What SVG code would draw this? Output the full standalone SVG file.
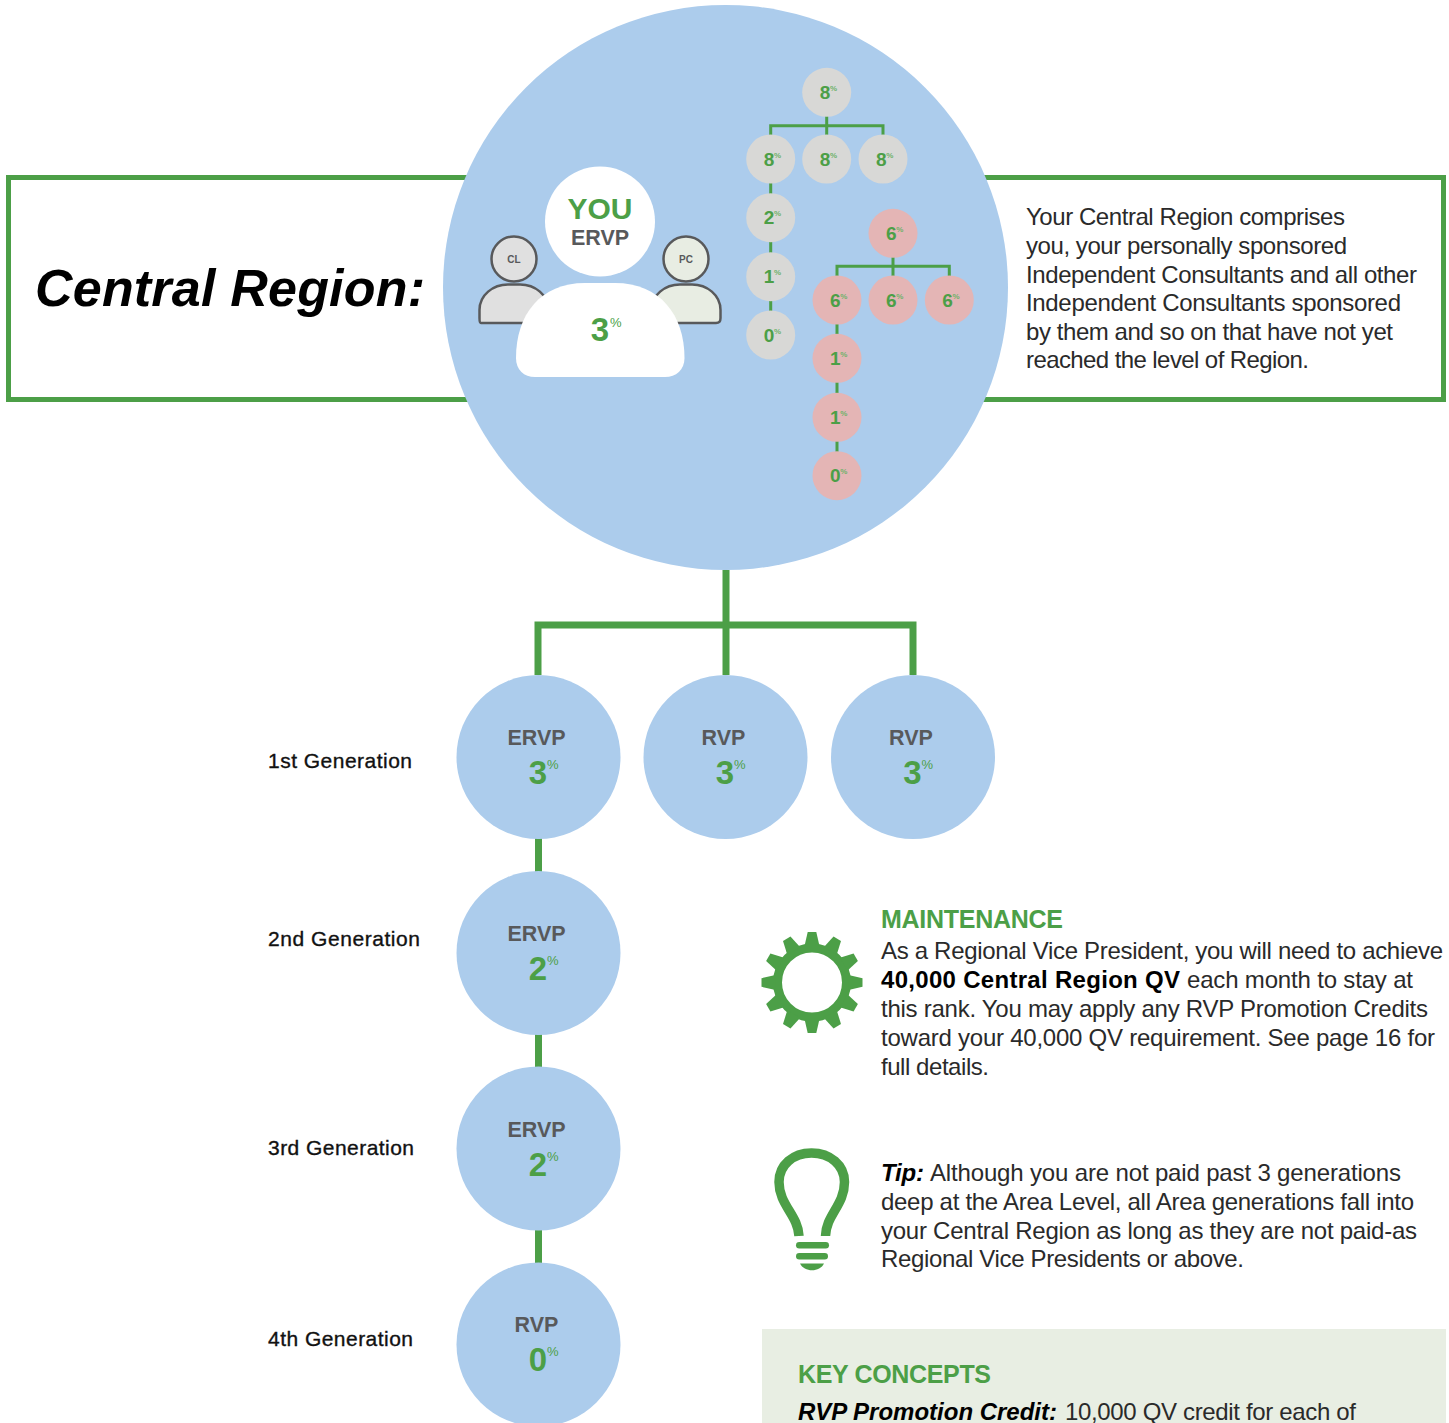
<svg xmlns="http://www.w3.org/2000/svg" width="1449" height="1423" viewBox="0 0 1449 1423">
<style>
text{font-family:"Liberation Sans",Arial,sans-serif}
.g{fill:#4c9f47}
.b{font-weight:bold}
.d{fill:#58595b;font-weight:bold}
.t{font-size:24px;fill:#2a2a2a}
.k{font-weight:bold;fill:#000}
.i{font-style:italic}
.gen{font-size:21px;fill:#111;stroke:#111;stroke-width:.35px}
.sm{font-size:19px;font-weight:bold;fill:#4c9f47;text-anchor:middle}
.smp{font-size:8px;font-weight:bold;fill:#6fb26b}
.big{font-size:33px;font-weight:bold;fill:#4c9f47;text-anchor:middle}
.bigp{font-size:13px;fill:#4c9f47}
.lab{font-size:21.500px;font-weight:bold;fill:#58595b;text-anchor:middle}
.head{font-size:25px;font-weight:bold;fill:#4c9f47}
.line{stroke:#4c9f47;fill:none}
.grey{fill:#d8d8d6}.pink{fill:#e4b5b5}.blue{fill:#acccec}
</style>
<defs>
<polygon id="tooth" points="807.700,932 816.300,932 819.500,946 804.500,946" fill="#4c9f47"/>
</defs>
<rect id="band" x="8.500" y="177.500" width="1435" height="222" fill="#fff" stroke="#4c9f47" stroke-width="5"/>
<text id="title" x="35" y="306" font-size="52" font-weight="bold" font-style="italic" fill="#000" textLength="390">Central Region:</text>
<g id="desc" class="t">
<text x="1026" y="224.500" textLength="319">Your Central Region comprises</text>
<text x="1026" y="253.500" textLength="321">you, your personally sponsored</text>
<text x="1026" y="282.500" textLength="391">Independent Consultants and all other</text>
<text x="1026" y="311" textLength="375">Independent Consultants sponsored</text>
<text x="1026" y="340" textLength="367">by them and so on that have not yet</text>
<text x="1026" y="368" textLength="283">reached the level of Region.</text>
</g>
<circle id="region" class="blue" cx="725.500" cy="287.500" r="282.500"/>
<g id="connectors">
<g class="line" stroke-width="7">
<path d="M726 570V675M538 675V625H913V675M538.500 838V872M538.500 1034V1068M538.500 1230V1264"/>
</g>
<g class="line" stroke-width="3">
<path d="M826.700 116V159M770.700 159V125.700H883V159M770.700 183V336M893 257V300M837 300V266.300H949.300V300M837 324V476"/>
</g>
</g>
<g id="cl">
<path d="M481 323C479.500 323 479.500 320 479.500 318V310C479.500 295 493 284.500 508 284.500H520C535 284.500 548.500 295 548.500 310V318C548.500 322 547 323 544 323Z" fill="#e0e0e0" stroke="#58595b" stroke-width="2.500"/>
<circle cx="514" cy="259" r="22.500" fill="#e0e0e0" stroke="#58595b" stroke-width="2.500"/>
<text x="514" y="263" font-size="10" text-anchor="middle" class="d">CL</text>
</g>
<g id="pc">
<path d="M653 323C651.500 323 651.500 320 651.500 318V310C651.500 295 665 284.500 680 284.500H692C707 284.500 720.500 295 720.500 310V318C720.500 322 719 323 716 323Z" fill="#e8ede3" stroke="#58595b" stroke-width="2.500"/>
<circle cx="686" cy="259" r="22.500" fill="#e8ede3" stroke="#58595b" stroke-width="2.500"/>
<text x="686" y="263" font-size="10" text-anchor="middle" class="d">PC</text>
</g>
<g id="you">
<circle cx="600" cy="221.500" r="55" fill="#fff"/>
<path d="M516 358C516 315 540 283 585 283H615C660 283 684.500 315 684.500 358C684.500 370 676 377 665 377H535C524 377 516 370 516 358Z" fill="#fff"/>
<text x="600" y="219" font-size="30" text-anchor="middle" class="g b">YOU</text>
<text x="600" y="245" class="lab">ERVP</text>
<text x="600" y="341" class="big">3</text><text x="610" y="327" class="bigp">%</text>
</g>
<g id="n1"><circle class="grey" cx="826.700" cy="92.300" r="24.500"/><text class="sm" x="825" y="98.800">8</text><text class="smp" x="830" y="90.500">%</text></g>
<g id="n2"><circle class="grey" cx="770.700" cy="159" r="24.500"/><text class="sm" x="769" y="165.500">8</text><text class="smp" x="774" y="157.500">%</text></g>
<g id="n3"><circle class="grey" cx="826.700" cy="159" r="24.500"/><text class="sm" x="825" y="165.500">8</text><text class="smp" x="830" y="157.500">%</text></g>
<g id="n4"><circle class="grey" cx="883" cy="159" r="24.500"/><text class="sm" x="881.300" y="165.500">8</text><text class="smp" x="886.300" y="157.500">%</text></g>
<g id="n5"><circle class="grey" cx="770.700" cy="217.700" r="24.500"/><text class="sm" x="769" y="224">2</text><text class="smp" x="774" y="216">%</text></g>
<g id="n6"><circle class="grey" cx="770.700" cy="276.700" r="24.500"/><text class="sm" x="769" y="283">1</text><text class="smp" x="774" y="275">%</text></g>
<g id="n7"><circle class="grey" cx="770.700" cy="335" r="24.500"/><text class="sm" x="769" y="341.500">0</text><text class="smp" x="774" y="333.500">%</text></g>
<g id="p1"><circle class="pink" cx="893" cy="233.300" r="24.500"/><text class="sm" x="891.300" y="239.800">6</text><text class="smp" x="896.300" y="231.800">%</text></g>
<g id="p2"><circle class="pink" cx="837" cy="300" r="24.500"/><text class="sm" x="835.300" y="306.500">6</text><text class="smp" x="840.300" y="298.500">%</text></g>
<g id="p3"><circle class="pink" cx="893" cy="300" r="24.500"/><text class="sm" x="891.300" y="306.500">6</text><text class="smp" x="896.300" y="298.500">%</text></g>
<g id="p4"><circle class="pink" cx="949.300" cy="300" r="24.500"/><text class="sm" x="947.600" y="306.500">6</text><text class="smp" x="952.600" y="298.500">%</text></g>
<g id="p5"><circle class="pink" cx="837" cy="358.300" r="24.500"/><text class="sm" x="835.300" y="364.800">1</text><text class="smp" x="840.300" y="356.800">%</text></g>
<g id="p6"><circle class="pink" cx="837" cy="417.300" r="24.500"/><text class="sm" x="835.300" y="423.500">1</text><text class="smp" x="840.300" y="415.800">%</text></g>
<g id="p7"><circle class="pink" cx="837" cy="475.700" r="24.500"/><text class="sm" x="835.300" y="482">0</text><text class="smp" x="840.300" y="474.200">%</text></g>
<g id="g1a"><circle class="blue" cx="538.500" cy="757" r="82"/><text class="lab" x="536.500" y="745">ERVP</text><text class="big" x="538" y="784">3</text><text class="bigp" x="547" y="769">%</text></g>
<g id="g1b"><circle class="blue" cx="725.500" cy="757" r="82"/><text class="lab" x="723.500" y="745">RVP</text><text class="big" x="725" y="784">3</text><text class="bigp" x="734" y="769">%</text></g>
<g id="g1c"><circle class="blue" cx="913" cy="757" r="82"/><text class="lab" x="911" y="745">RVP</text><text class="big" x="912.500" y="784">3</text><text class="bigp" x="921.500" y="769">%</text></g>
<g id="g2"><circle class="blue" cx="538.500" cy="953" r="82"/><text class="lab" x="536.500" y="941">ERVP</text><text class="big" x="538" y="980">2</text><text class="bigp" x="547" y="965">%</text></g>
<g id="g3"><circle class="blue" cx="538.500" cy="1148.500" r="82"/><text class="lab" x="536.500" y="1137">ERVP</text><text class="big" x="538" y="1176">2</text><text class="bigp" x="547" y="1161">%</text></g>
<g id="g4"><circle class="blue" cx="538.500" cy="1344.500" r="82"/><text class="lab" x="536.500" y="1332">RVP</text><text class="big" x="538" y="1371">0</text><text class="bigp" x="547" y="1356">%</text></g>
<g id="gens">
<text class="gen" x="268" y="768" textLength="144">1st Generation</text>
<text class="gen" x="268" y="946" textLength="152">2nd Generation</text>
<text class="gen" x="268" y="1155" textLength="146">3rd Generation</text>
<text class="gen" x="268" y="1346" textLength="145">4th Generation</text>
</g>
<g id="gear">
<circle cx="812" cy="982.500" r="34.500" fill="none" stroke="#4c9f47" stroke-width="9"/>
<use href="#tooth"/>
<use href="#tooth" transform="rotate(30 812 982.500)"/>
<use href="#tooth" transform="rotate(60 812 982.500)"/>
<use href="#tooth" transform="rotate(90 812 982.500)"/>
<use href="#tooth" transform="rotate(120 812 982.500)"/>
<use href="#tooth" transform="rotate(150 812 982.500)"/>
<use href="#tooth" transform="rotate(180 812 982.500)"/>
<use href="#tooth" transform="rotate(210 812 982.500)"/>
<use href="#tooth" transform="rotate(240 812 982.500)"/>
<use href="#tooth" transform="rotate(270 812 982.500)"/>
<use href="#tooth" transform="rotate(300 812 982.500)"/>
<use href="#tooth" transform="rotate(330 812 982.500)"/>
</g>
<g id="maintenance" class="t">
<text x="881" y="928" class="head" textLength="182">MAINTENANCE</text>
<text x="881" y="959" textLength="562">As a Regional Vice President, you will need to achieve</text>
<text x="881" y="988"><tspan class="k" x="881" textLength="299">40,000 Central Region QV</tspan> <tspan x="1187" textLength="226">each month to stay at</tspan></text>
<text x="881" y="1017" textLength="547">this rank. You may apply any RVP Promotion Credits</text>
<text x="881" y="1046" textLength="554">toward your 40,000 QV requirement. See page 16 for</text>
<text x="881" y="1075" textLength="108">full details.</text>
</g>
<g id="bulb">
<path d="M799 1236C798 1215 779 1205 779 1182C779 1165 793 1153 811.500 1153C830 1153 844.500 1165 844.500 1182C844.500 1205 826 1215 825.500 1236" fill="none" stroke="#4c9f47" stroke-width="9.500"/>
<rect x="796" y="1242" width="33" height="6.500" rx="3.250" fill="#4c9f47"/>
<rect x="796" y="1253" width="32" height="6.500" rx="3.250" fill="#4c9f47"/>
<path d="M800 1263.500H824C820 1272.500 804 1272.500 800 1263.500Z" fill="#4c9f47"/>
</g>
<g id="tip" class="t">
<text x="881" y="1181"><tspan class="k i" x="881" textLength="43">Tip:</tspan> <tspan x="930" textLength="471">Although you are not paid past 3 generations</tspan></text>
<text x="881" y="1210" textLength="533">deep at the Area Level, all Area generations fall into</text>
<text x="881" y="1239" textLength="536">your Central Region as long as they are not paid-as</text>
<text x="881" y="1267" textLength="363">Regional Vice Presidents or above.</text>
</g>
<g id="key">
<rect x="762" y="1329" width="684" height="94" fill="#e8eee3"/>
<text x="798" y="1383" class="head" textLength="193">KEY CONCEPTS</text>
<text x="798" y="1420" class="t"><tspan class="k i" x="798" textLength="259">RVP Promotion Credit:</tspan> <tspan x="1065" textLength="291">10,000 QV credit for each of</tspan></text>
</g>
</svg>
